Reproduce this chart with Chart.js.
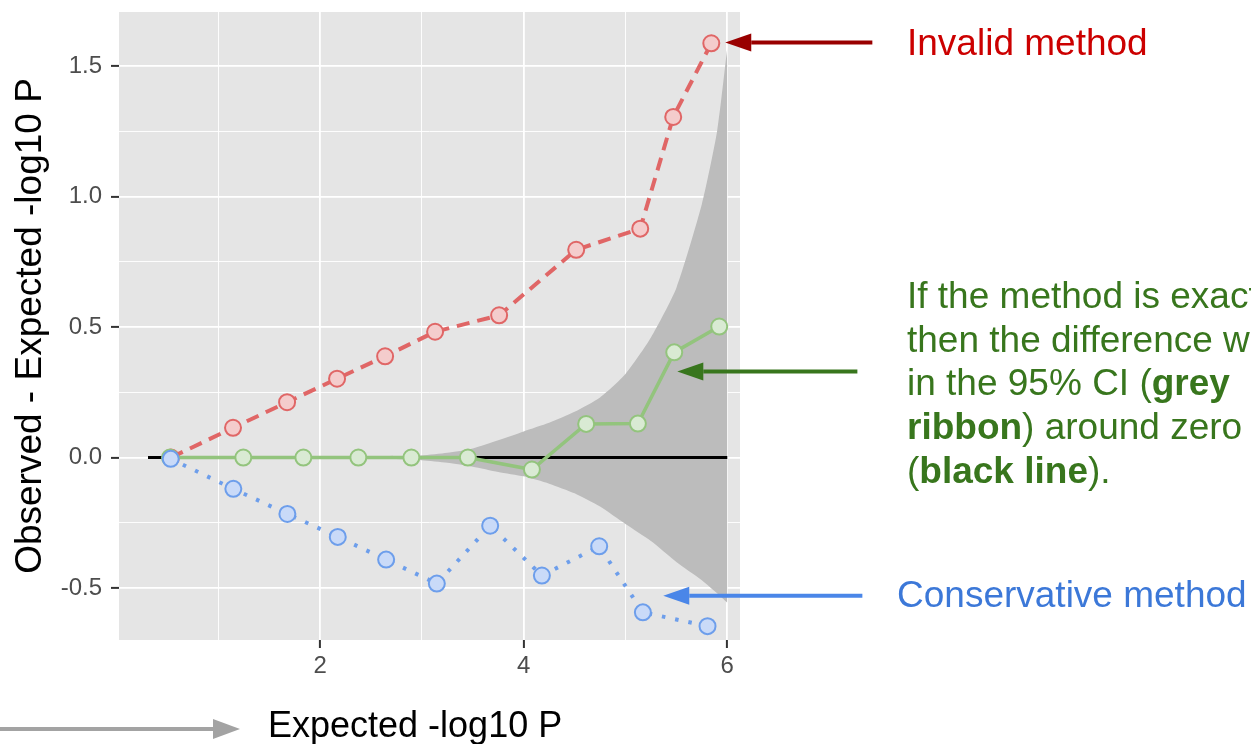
<!DOCTYPE html>
<html>
<head>
<meta charset="utf-8">
<script src="https://cdn.jsdelivr.net/npm/chart.js@4.4.1/dist/chart.umd.min.js"></script>
<style>
  html, body { margin: 0; padding: 0; background: #ffffff; }
  #wrap { width: 1251px; height: 744px; position: relative; }
</style>
</head>
<body>
<div id="wrap"><canvas id="c"></canvas></div>
<script>
// ---------------- data ----------------
const invalidX    = [0.536, 1.145, 1.676, 2.167, 2.639, 3.130, 3.759, 4.516, 5.145, 5.469, 5.843];
const invalidDiff = [0.000, 0.114, 0.212, 0.302, 0.388, 0.482, 0.545, 0.796, 0.877, 1.305, 1.587];

const exactX      = [0.526, 1.246, 1.836, 2.376, 2.897, 3.452, 4.081, 4.614, 5.122, 5.479, 5.921];
const exactDiff   = [0.000, 0.000, 0.000, 0.000, 0.000, 0.000, -0.046, 0.129, 0.130, 0.403, 0.502];

const conservX    = [0.533, 1.148, 1.679, 2.174, 2.649, 3.147, 3.671, 4.179, 4.742, 5.171, 5.806];
const conservDiff = [-0.005, -0.120, -0.216, -0.304, -0.391, -0.483, -0.261, -0.452, -0.340, -0.593, -0.646];

const ribbonX     = [0.31, 1.0, 1.5, 2.0, 2.5, 3.0, 3.25, 3.5, 3.75, 4.0, 4.25, 4.5, 4.75, 5.0, 5.25, 5.5, 5.75, 5.9, 6.0];
const ribbonUpper = [0, 0.001, 0.002, 0.003, 0.005, 0.008, 0.018, 0.035, 0.066, 0.100, 0.133, 0.175, 0.230, 0.320, 0.460, 0.650, 0.970, 1.250, 1.570];
const ribbonLower = [0, -0.001, -0.002, -0.003, -0.005, -0.010, -0.020, -0.035, -0.055, -0.072, -0.100, -0.137, -0.188, -0.255, -0.320, -0.400, -0.470, -0.520, -0.556];

const zeroX = [0.31, 6.0];
const zeroY = [0, 0];

const xMajor = [2, 4, 6];
const xTickLabels = ["2", "4", "6"];
const xMinor = [1, 3, 5];
const yMajor = [-0.5, 0, 0.5, 1.0, 1.5];
const yTickLabels = ["-0.5", "0.0", "0.5", "1.0", "1.5"];
const yMinor = [-0.25, 0.25, 0.75, 1.25];

// annotation arrows (tail -> tip) in data units
const invalidArrow = { tail: [7.425, 1.59], tip: [5.98, 1.59] };
const exactArrow   = { tail: [7.278, 0.33], tip: [5.509, 0.33] };
const conservArrow = { tail: [7.327, -0.529], tip: [5.371, -0.529] };

// ---------------- helpers ----------------
const FONT = '"Liberation Sans", Arial, Helvetica, sans-serif';
const pts = (xs, ys) => xs.map((x, i) => ({ x: x, y: ys[i] }));

function drawArrow(ctx, x1, y1, x2, y2, color, lw, headLen, headHalf) {
  const ang = Math.atan2(y2 - y1, x2 - x1);
  const bx = x2 - headLen * Math.cos(ang), by = y2 - headLen * Math.sin(ang);
  ctx.save();
  ctx.strokeStyle = color; ctx.lineWidth = lw; ctx.lineCap = 'butt';
  ctx.beginPath(); ctx.moveTo(x1, y1); ctx.lineTo(bx, by); ctx.stroke();
  ctx.fillStyle = color;
  ctx.beginPath();
  ctx.moveTo(x2, y2);
  ctx.lineTo(bx - headHalf * Math.sin(ang), by + headHalf * Math.cos(ang));
  ctx.lineTo(bx + headHalf * Math.sin(ang), by - headHalf * Math.cos(ang));
  ctx.closePath(); ctx.fill();
  ctx.restore();
}

function richLine(ctx, x, y, segs, color, size) {
  let cx = x;
  for (const [t, bold] of segs) {
    ctx.font = (bold ? 'bold ' : '') + size + 'px ' + FONT;
    ctx.fillStyle = color;
    ctx.fillText(t, cx, y);
    cx += ctx.measureText(t).width;
  }
}

const panelBg = {
  id: 'panelBg',
  beforeDraw(chart) {
    const { ctx, chartArea: a } = chart;
    ctx.save();
    ctx.fillStyle = '#e5e5e5';
    ctx.fillRect(a.left, a.top, a.right - a.left, a.bottom - a.top);
    ctx.restore();
  }
};

const annotations = {
  id: 'annotations',
  afterDraw(chart) {
    const ctx = chart.ctx;
    const xs = chart.scales.x, ys = chart.scales.y;
    const P = (p) => [xs.getPixelForValue(p[0]), ys.getPixelForValue(p[1])];
    const arrows = [
      [invalidArrow, '#990000'],
      [exactArrow, '#38761d'],
      [conservArrow, '#4a86e8']
    ];
    for (const [a, col] of arrows) {
      const t = P(a.tail), h = P(a.tip);
      drawArrow(ctx, t[0], t[1], h[0], h[1], col, 4, 26, 9);
    }
    ctx.save();
    ctx.textBaseline = 'alphabetic';
    ctx.textAlign = 'left';
    richLine(ctx, 907, 55, [['Invalid method', false]], '#cc0000', 37);
    const g = '#38761d';
    const lines = [
      [['If the method is exact,', false]],
      [['then the difference will', false]],
      [['in the 95% CI (', false], ['grey', true]],
      [['ribbon', true], [') around zero', false]],
      [['(', false], ['black line', true], [').', false]]
    ];
    lines.forEach((segs, i) => richLine(ctx, 907, 308 + i * 43.7, segs, g, 37));
    richLine(ctx, 897, 607, [['Conservative method', false]], '#3c78d8', 37);
    drawArrow(ctx, 0, 729, 240, 729, '#a3a3a3', 4, 27, 10);
    richLine(ctx, 268, 737, [['Expected -log10 P', false]], '#000000', 36);
    ctx.restore();
  }
};

// ---------------- chart ----------------
new Chart(document.getElementById('c'), {
  type: 'line',
  data: {
    datasets: [
      {
        label: 'Conservative method',
        data: pts(conservX, conservDiff),
        borderColor: '#6d9eeb', borderWidth: 4, borderDash: [3.5, 10], borderCapStyle: 'butt',
        pointRadius: 8, pointBorderWidth: 2,
        pointBackgroundColor: '#c9daf8', pointBorderColor: '#6d9eeb',
        fill: false, tension: 0, order: 1
      },
      {
        label: 'Exact method',
        data: pts(exactX, exactDiff),
        borderColor: '#93c47d', borderWidth: 3.5,
        pointRadius: 8, pointBorderWidth: 2,
        pointBackgroundColor: '#d9ead3', pointBorderColor: '#93c47d',
        fill: false, tension: 0, order: 2
      },
      {
        label: 'Invalid method',
        data: pts(invalidX, invalidDiff),
        borderColor: '#e06666', borderWidth: 4, borderDash: [13, 8], borderCapStyle: 'butt',
        pointRadius: 8, pointBorderWidth: 2,
        pointBackgroundColor: '#f4cccc', pointBorderColor: '#e06666',
        fill: false, tension: 0, order: 3
      },
      {
        label: 'Zero',
        data: pts(zeroX, zeroY),
        borderColor: '#000000', borderWidth: 3,
        pointRadius: 0, fill: false, tension: 0, order: 4
      },
      {
        label: '95% CI upper',
        data: pts(ribbonX, ribbonUpper),
        borderColor: 'rgba(0,0,0,0)', borderWidth: 0,
        backgroundColor: '#bcbcbc',
        pointRadius: 0, fill: '+1', tension: 0.2, order: 5
      },
      {
        label: '95% CI lower',
        data: pts(ribbonX, ribbonLower),
        borderColor: 'rgba(0,0,0,0)', borderWidth: 0,
        pointRadius: 0, fill: false, tension: 0.2, order: 6
      }
    ]
  },
  options: {
    responsive: true,
    maintainAspectRatio: false,
    devicePixelRatio: 1,
    animation: false,
    layout: { autoPadding: false, padding: { top: 12, right: 511, bottom: 0, left: 0 } },
    plugins: { legend: { display: false }, tooltip: { enabled: false } },
    scales: {
      x: {
        type: 'linear',
        min: 0.025, max: 6.125,
        afterFit: (s) => { s.height = 104; s.paddingLeft = 0; s.paddingRight = 0; },
        afterBuildTicks: (s) => { s.ticks = [...xMinor, ...xMajor].sort((a, b) => a - b).map(v => ({ value: v })); },
        border: { display: false },
        grid: {
          color: '#ffffff',
          lineWidth: (c) => (c.tick && xMajor.includes(c.tick.value)) ? 1.8 : 0.9,
          tickColor: (c) => (c.tick && xMajor.includes(c.tick.value)) ? '#333333' : 'rgba(0,0,0,0)',
          tickWidth: 2,
          tickLength: 8
        },
        ticks: {
          autoSkip: false, maxRotation: 0,
          padding: 4,
          color: '#4d4d4d',
          font: { family: FONT, size: 24 },
          callback: (v) => { const i = xMajor.indexOf(v); return i >= 0 ? xTickLabels[i] : ''; }
        },
        title: { display: false }
      },
      y: {
        type: 'linear',
        min: -0.699, max: 1.707,
        afterFit: (s) => { s.width = 119; s.paddingTop = 0; s.paddingBottom = 0; },
        afterBuildTicks: (s) => { s.ticks = [...yMinor, ...yMajor].sort((a, b) => a - b).map(v => ({ value: v })); },
        border: { display: false },
        grid: {
          color: '#ffffff',
          lineWidth: (c) => (c.tick && yMajor.includes(c.tick.value)) ? 1.8 : 0.9,
          tickColor: (c) => (c.tick && yMajor.includes(c.tick.value)) ? '#333333' : 'rgba(0,0,0,0)',
          tickWidth: 2,
          tickLength: 8
        },
        ticks: {
          autoSkip: false,
          padding: 9,
          color: '#4d4d4d',
          font: { family: FONT, size: 24 },
          callback: (v) => { const i = yMajor.indexOf(v); return i >= 0 ? yTickLabels[i] : ''; }
        },
        title: {
          display: true,
          text: 'Observed - Expected -log10 P',
          color: '#000000',
          font: { family: FONT, size: 37, lineHeight: 1 },
          padding: { top: 12, bottom: 0 }
        }
      }
    }
  },
  plugins: [panelBg, annotations]
});
</script>
</body>
</html>
